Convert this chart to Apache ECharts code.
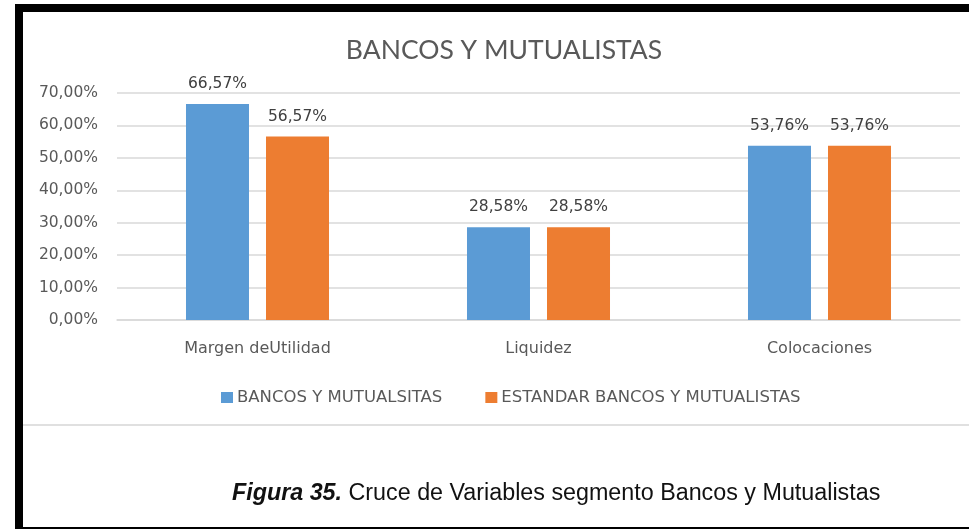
<!DOCTYPE html>
<html><head><meta charset="utf-8">
<script src="https://cdn.jsdelivr.net/npm/echarts@6/dist/echarts.min.js"></script>
<style>html,body{margin:0;padding:0;background:#fff}#c{width:969px;height:529px}</style>
</head><body><div id="c"></div>
<script>
const categories = ['Margen deUtilidad', 'Liquidez', 'Colocaciones'];
const seriesNames = ['BANCOS Y MUTUALSITAS', 'ESTANDAR BANCOS Y MUTUALISTAS'];
const bancos = [66.57, 28.58, 53.76];
const estandar = [56.57, 28.58, 53.76];
const yTicks = [0, 10, 20, 30, 40, 50, 60, 70];
const titleText = 'BANCOS Y MUTUALISTAS';
const captionBold = 'Figura 35.';
const captionRest = ' Cruce de Variables segmento Bancos y Mutualistas';

const fmt = v => v.toFixed(2).replace('.', ',') + '%';
const chart = echarts.init(document.getElementById('c'), null, {renderer: 'canvas'});
const font = 'Lato, "DejaVu Sans", sans-serif';
const small = '"DejaVu Sans", sans-serif';
chart.setOption({
  animation: false,
  backgroundColor: '#fff',
  title: {text: titleText, left: 499, top: 32, textAlign: 'center',
    textStyle: {fontFamily: font, fontSize: 26.5, fontWeight: 'normal', color: '#595959'}},
  legend: {top: 384, left: 216, itemWidth: 12, itemHeight: 11, itemGap: 43, icon: 'rect',
    data: seriesNames,
    textStyle: {fontFamily: small, fontSize: 16.5, color: '#595959', padding: [0, 0, 0, -1]}},
  grid: {left: 117, right: 9, top: 93, bottom: 209, containLabel: false},
  xAxis: {type: 'category', data: categories,
    axisLine: {lineStyle: {color: '#d9d9d9', width: 1.5}}, axisTick: {show: false},
    axisLabel: {margin: 21, fontFamily: small, fontSize: 16, color: '#595959'}},
  yAxis: {type: 'value', min: yTicks[0], max: yTicks[yTicks.length - 1], interval: 10,
    axisLine: {show: false}, axisTick: {show: false},
    splitLine: {lineStyle: {color: '#d9d9d9', width: 1.5}},
    axisLabel: {margin: 19, fontFamily: small, fontSize: 15.5, color: '#595959', formatter: v => fmt(v)}},
  series: [
    {name: seriesNames[0], type: 'bar', data: bancos, barWidth: 63, barGap: '27%',
      itemStyle: {color: '#5b9bd5'},
      label: {show: true, position: 'top', distance: 12, fontFamily: small, fontSize: 15.5, color: '#404040', formatter: p => fmt(p.value)}},
    {name: seriesNames[1], type: 'bar', data: estandar, barWidth: 63,
      itemStyle: {color: '#ed7d31'},
      label: {show: true, position: 'top', distance: 12, fontFamily: small, fontSize: 15.5, color: '#404040', formatter: p => fmt(p.value)}}
  ],
  graphic: [
    {type: 'rect', shape: {x: 15, y: 4, width: 8, height: 525}, style: {fill: '#000'}, silent: true},
    {type: 'rect', shape: {x: 15, y: 4, width: 954, height: 8}, style: {fill: '#000'}, silent: true},
    {type: 'rect', shape: {x: 15, y: 527, width: 954, height: 2}, style: {fill: '#000'}, silent: true},
    {type: 'rect', shape: {x: 23, y: 424, width: 946, height: 2}, style: {fill: '#e0e0e0'}, silent: true},
    {type: 'text', left: 232, top: 482, silent: true,
      style: {text: '{b|' + captionBold + '}{r|' + captionRest + '}',
        rich: {
          b: {fontFamily: '"Liberation Sans", Arial, sans-serif', fontSize: 23.3, fontStyle: 'italic', fontWeight: 'bold', fill: '#111'},
          r: {fontFamily: '"Liberation Sans", Arial, sans-serif', fontSize: 23.3, fill: '#111'}
        }}}
  ]
});
</script></body></html>
